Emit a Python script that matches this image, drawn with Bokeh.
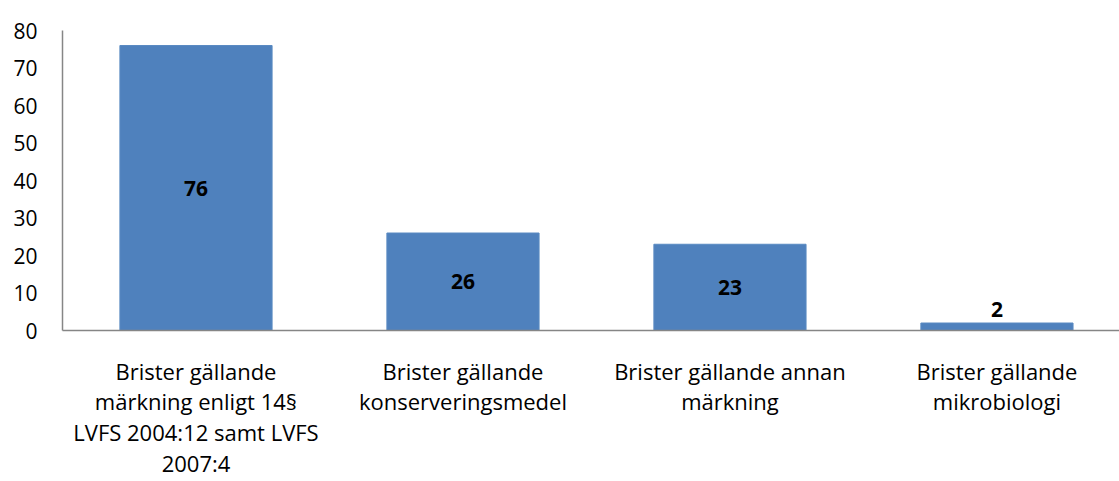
from bokeh.plotting import figure
from bokeh.models import ColumnDataSource, Range1d, FixedTicker, LabelSet
from bokeh.core.properties import value
from bokeh.embed import file_html
from bokeh.resources import INLINE

categories = [
    "Brister gällande\nmärkning enligt 14§\nLVFS 2004:12 samt LVFS\n2007:4",
    "Brister gällande\nkonserveringsmedel",
    "Brister gällande annan\nmärkning",
    "Brister gällande\nmikrobiologi",
]
values = [76, 26, 23, 2]
y_ticks = [0, 10, 20, 30, 40, 50, 60, 70, 80]

FONT = "Open Sans"

xs = [i + 0.5 for i in range(len(values))]
label_y = [v / 2 if v > 5 else v + 3.7 for v in values]

src = ColumnDataSource(dict(x=xs, top=values, ly=label_y, txt=[str(v) for v in values]))

p = figure(width=1119, height=481, output_backend="svg", toolbar_location=None,
           x_range=Range1d(0, 3.959), y_range=Range1d(0, 80),
           min_border_left=62, min_border_right=0, min_border_top=30, min_border_bottom=148)
p.outline_line_color = None
p.grid.visible = False

p.vbar(x="x", top="top", bottom=0, width=0.57, source=src,
       fill_color="#4F81BD", line_color="#5A8AC2", line_width=1)

labels = LabelSet(x="x", y="ly", text="txt", source=src,
                  text_align="center", text_baseline="middle",
                  text_font=value(FONT), text_font_size=value("21px"),
                  text_font_style=value("bold"), text_color=value("#000000"))
p.add_layout(labels)

# y axis
p.yaxis.ticker = FixedTicker(ticks=y_ticks)
p.yaxis.axis_line_color = "#868686"
p.yaxis.axis_line_width = 1.5
p.yaxis.major_tick_out = 0
p.yaxis.major_tick_in = 0
p.yaxis.minor_tick_out = 0
p.yaxis.minor_tick_in = 0
p.yaxis.major_label_standoff = 25
p.yaxis.major_label_text_font = FONT
p.yaxis.major_label_text_font_size = "21px"
p.yaxis.major_label_text_color = "#000000"

# x axis
p.xaxis.ticker = FixedTicker(ticks=xs)
p.xaxis.major_label_overrides = {x: c for x, c in zip(xs, categories)}
p.xaxis.axis_line_color = "#868686"
p.xaxis.axis_line_width = 1.5
p.xaxis.major_tick_out = 0
p.xaxis.major_tick_in = 0
p.xaxis.minor_tick_out = 0
p.xaxis.minor_tick_in = 0
p.xaxis.major_label_standoff = 25
p.xaxis.major_label_text_font = FONT
p.xaxis.major_label_text_font_size = "22px"
p.xaxis.major_label_text_color = "#000000"
p.xaxis.major_label_text_line_height = 1.03

open("out.html", "w").write(file_html(p, INLINE))
